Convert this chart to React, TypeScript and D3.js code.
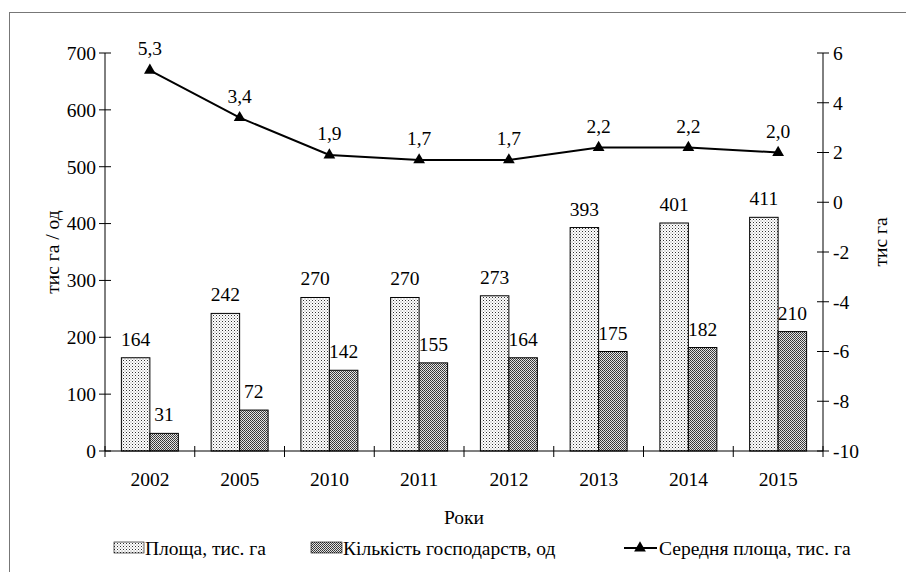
import * as d3 from "d3";

const years = ["2002", "2005", "2010", "2011", "2012", "2013", "2014", "2015"];
const area = [164, 242, 270, 270, 273, 393, 401, 411];
const farms = [31, 72, 142, 155, 164, 175, 182, 210];
const avgArea = [5.3, 3.4, 1.9, 1.7, 1.7, 2.2, 2.2, 2.0];
const leftTicks = [0, 100, 200, 300, 400, 500, 600, 700];
const rightTicks = [-10, -8, -6, -4, -2, 0, 2, 4, 6];

const FONT = "'Times New Roman', 'Liberation Serif', serif";
const fs = 19.5;

// comma as decimal separator, like the source
const fmt = (v: number) => v.toFixed(1).replace(".", ",");

export default function App() {
  const width = 906;
  const height = 572;
  const margin = { left: 105, right: 83, top: 53, bottom: 121 };

  const x = d3
    .scaleBand<string>()
    .domain(years)
    .range([margin.left, width - margin.right]);
  const inner = d3
    .scaleBand<string>()
    .domain(["area", "farms"])
    .range([0, x.bandwidth()])
    .paddingOuter(0.575);
  const y = d3
    .scaleLinear()
    .domain([0, 700])
    .range([height - margin.bottom, margin.top]);
  const y2 = d3
    .scaleLinear()
    .domain([-10, 6])
    .range([height - margin.bottom, margin.top]);

  const line = d3
    .line<number>()
    .x((_, i) => x(years[i])! + x.bandwidth() / 2)
    .y((d) => y2(d));

  const tri = d3.symbol(d3.symbolTriangle, 60)()!;
  const x0 = margin.left;
  const x1 = width - margin.right;
  const yb = y(0);

  return (
    <svg
      width={width}
      height={height}
      fontFamily={FONT}
      style={{ position: "absolute", left: 0, top: 0 }}
    >
      <defs>
        <pattern id="dots" width="3" height="3" patternUnits="userSpaceOnUse">
          <rect width="3" height="3" fill="#fff" />
          <rect x="0" y="0" width="1" height="1" fill="#333" />
          <rect x="1.5" y="1.5" width="1" height="1" fill="#888" />
        </pattern>
        <pattern id="dense" width="2" height="2" patternUnits="userSpaceOnUse">
          <rect width="2" height="2" fill="#e4e4e4" />
          <rect x="0" y="0" width="1" height="1" fill="#333" />
          <rect x="1" y="1" width="1" height="1" fill="#444" />
        </pattern>
      </defs>
      <rect x={0} y={0} width={width} height={height} fill="#fff" />
      <rect
        x={9.5}
        y={12.5}
        width={width + 20}
        height={height + 20}
        fill="none"
        stroke="#777"
        strokeWidth={1}
      />

      {/* bars */}
      {years.map((yr, i) => (
        <g key={yr}>
          <rect
            x={x(yr)! + inner("area")!}
            y={y(area[i])}
            width={inner.bandwidth()}
            height={yb - y(area[i])}
            fill="url(#dots)"
            stroke="#000"
          />
          <rect
            x={x(yr)! + inner("farms")!}
            y={y(farms[i])}
            width={inner.bandwidth()}
            height={yb - y(farms[i])}
            fill="url(#dense)"
            stroke="#000"
          />
          <text
            x={x(yr)! + inner("area")! + inner.bandwidth() / 2}
            y={y(area[i]) - 12}
            textAnchor="middle"
            fontSize={fs}
          >
            {area[i]}
          </text>
          <text
            x={x(yr)! + inner("farms")! + inner.bandwidth() / 2}
            y={y(farms[i]) - 12}
            textAnchor="middle"
            fontSize={fs}
          >
            {farms[i]}
          </text>
        </g>
      ))}

      {/* x axis */}
      <line x1={x0} x2={x1} y1={yb} y2={yb} stroke="#000" />
      {[...years.map((yr) => x(yr)!), x1].map((v, i) => (
        <line key={i} x1={v} x2={v} y1={yb - 5} y2={yb + 6} stroke="#000" />
      ))}
      {years.map((yr) => (
        <text
          key={yr}
          x={x(yr)! + x.bandwidth() / 2}
          y={yb + 35}
          textAnchor="middle"
          fontSize={fs}
        >
          {yr}
        </text>
      ))}
      <text x={(x0 + x1) / 2} y={yb + 73} textAnchor="middle" fontSize={fs}>
        Роки
      </text>

      {/* left axis */}
      <line x1={x0} x2={x0} y1={y(700)} y2={yb} stroke="#000" />
      {leftTicks.map((t) => (
        <g key={t}>
          <line x1={x0 - 6} x2={x0 + 6} y1={y(t)} y2={y(t)} stroke="#000" />
          <text
            x={x0 - 9}
            y={y(t)}
            dy="0.35em"
            textAnchor="end"
            fontSize={fs}
          >
            {t}
          </text>
        </g>
      ))}
      <text
        transform={`translate(52,${(y(700) + yb) / 2}) rotate(-90)`}
        textAnchor="middle"
        dy="0.35em"
        fontSize={fs}
      >
        тис га / од
      </text>

      {/* right axis */}
      <line x1={x1} x2={x1} y1={y2(6)} y2={y2(-10)} stroke="#000" />
      {rightTicks.map((t) => (
        <g key={t}>
          <line x1={x1 - 6} x2={x1 + 6} y1={y2(t)} y2={y2(t)} stroke="#000" />
          <text x={x1 + 10} y={y2(t)} dy="0.35em" fontSize={fs}>
            {t}
          </text>
        </g>
      ))}
      <text
        transform={`translate(880,${(y2(6) + y2(-10)) / 2 - 10}) rotate(-90)`}
        textAnchor="middle"
        dy="0.35em"
        fontSize={fs}
      >
        тис га
      </text>

      {/* average area line */}
      <path d={line(avgArea)!} fill="none" stroke="#000" strokeWidth={2} />
      {avgArea.map((v, i) => (
        <g key={i}>
          <path
            d={tri}
            transform={`translate(${x(years[i])! + x.bandwidth() / 2},${y2(v)})`}
            fill="#000"
          />
          <text
            x={x(years[i])! + x.bandwidth() / 2}
            y={y2(v) - 15}
            textAnchor="middle"
            fontSize={fs}
          >
            {fmt(v)}
          </text>
        </g>
      ))}

      {/* legend */}
      <g fontSize={fs}>
        <rect x={114} y={542} width={30} height={11} fill="url(#dots)" stroke="#000" strokeWidth={0.6} />
        <text x={145} y={555}>Площа, тис. га</text>
        <rect x={311} y={542} width={31} height={11} fill="url(#dense)" stroke="#000" strokeWidth={0.6} />
        <text x={343} y={555}>Кількість господарств, од</text>
        <line x1={624} x2={657} y1={548} y2={548} stroke="#000" strokeWidth={2} />
        <path d={tri} transform="translate(640,548)" fill="#000" />
        <text x={659} y={555}>Середня площа, тис. га</text>
      </g>
    </svg>
  );
}
